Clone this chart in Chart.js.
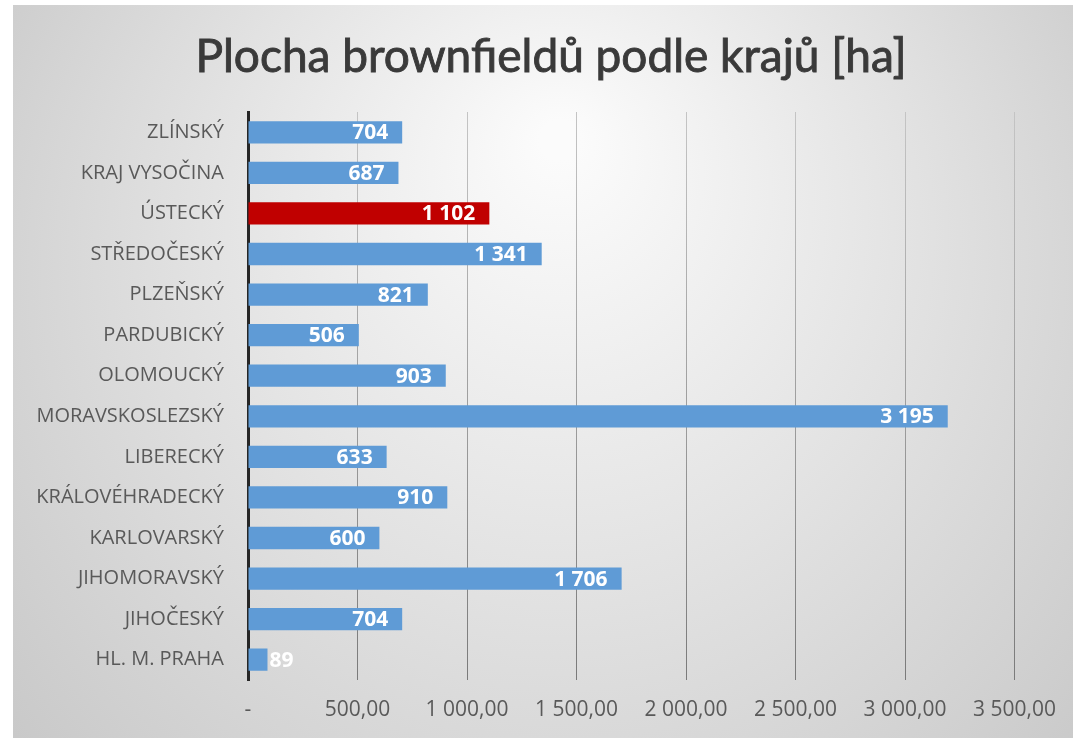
<!DOCTYPE html>
<html>
<head>
<meta charset="utf-8">
<script src="https://cdn.jsdelivr.net/npm/chart.js@4"></script>
<style>
  html, body { margin: 0; padding: 0; background: #ffffff; }
  #wrap { width: 1073px; height: 738px; }
</style>
</head>
<body>
<div id="wrap"><canvas id="myChart" width="1073" height="738"></canvas></div>
<script>
// data - Chart.js kresli prvni kategorii nahore
var kraje = ['ZLÍNSKÝ', 'KRAJ VYSOČINA', 'ÚSTECKÝ', 'STŘEDOČESKÝ', 'PLZEŇSKÝ', 'PARDUBICKÝ',
  'OLOMOUCKÝ', 'MORAVSKOSLEZSKÝ', 'LIBERECKÝ', 'KRÁLOVÉHRADECKÝ', 'KARLOVARSKÝ',
  'JIHOMORAVSKÝ', 'JIHOČESKÝ', 'HL. M. PRAHA'];
var plocha = [704, 687, 1102, 1341, 821, 506, 903, 3195, 633, 910, 600, 1706, 704, 89];
var zvyraznit = 'ÚSTECKÝ';
var titulek = 'Plocha brownfieldů podle krajů [ha]';
var osaMax = 3500;
var osaKrok = 500;

var FONT_TITUL = 'Lato, "Open Sans", sans-serif';
var FONT = '"Open Sans", Lato, sans-serif';
var modra = '#5f9bd6';
var cervena = '#c00000';

// cislo s mezerou jako oddelovac tisicu
function formatCislo(v, des) {
  var s = v.toFixed(des);
  var cast = s.split('.');
  var cele = cast[0].replace(/\B(?=(\d{3})+(?!\d))/g, ' ');
  return cast.length > 1 ? cele + ',' + cast[1] : cele;
}

var barvy = kraje.map(function (k) { return k === zvyraznit ? cervena : modra; });

// pozadi s radialnim prechodem + nadpis
var pozadi = {
  id: 'pozadi',
  beforeDraw: function (chart) {
    var c = chart.ctx;
    c.save();
    c.fillStyle = '#ffffff';
    c.fillRect(0, 0, chart.width, chart.height);
    var g = c.createRadialGradient(560, 140, 20, 560, 320, 700);
    g.addColorStop(0, '#fbfbfb');
    g.addColorStop(0.5, '#e2e2e2');
    g.addColorStop(1, '#c8c8c8');
    c.fillStyle = g;
    c.fillRect(13, 5, chart.width - 13, chart.height - 5);
    // nadpis (trochu tucnejsi tahem)
    c.font = 'normal 46px ' + FONT_TITUL;
    c.fillStyle = '#3a3a3a';
    c.strokeStyle = '#3a3a3a';
    c.lineWidth = 0.9;
    c.textAlign = 'center';
    c.textBaseline = 'alphabetic';
    c.fillText(titulek, 551, 72);
    c.strokeText(titulek, 551, 72);
    c.restore();
  }
};

// popisky hodnot uvnitr konce sloupce
var popisky = {
  id: 'popisky',
  afterDatasetsDraw: function (chart) {
    var c = chart.ctx;
    var meta = chart.getDatasetMeta(0);
    c.save();
    c.font = 'bold 21px ' + FONT;
    c.fillStyle = '#ffffff';
    c.textBaseline = 'middle';
    meta.data.forEach(function (bar, i) {
      var txt = formatCislo(plocha[i], 0);
      var w = c.measureText(txt).width;
      if (bar.x - bar.base > w + 18) {
        c.textAlign = 'right';
        c.fillText(txt, bar.x - 14, bar.y + 1);
      } else {
        c.textAlign = 'left';
        c.fillText(txt, bar.x + 2, bar.y + 1);
      }
    });
    c.restore();
  }
};

// mrizka - nahore svetlejsi, dole tmavsi
function barvaMrizky(context) {
  var ch = context.chart;
  var a = ch.chartArea;
  if (!a) return '#8c8c8c';
  var g = ch.ctx.createLinearGradient(0, a.top, 0, a.bottom);
  g.addColorStop(0, '#c4c4c4');
  g.addColorStop(1, '#7a7a7a');
  return g;
}

var ctx = document.getElementById('myChart').getContext('2d');
var chart = new Chart(ctx, {
  type: 'bar',
  data: {
    labels: kraje,
    datasets: [{
      label: 'Plocha [ha]',
      data: plocha,
      backgroundColor: barvy,
      borderWidth: 0,
      categoryPercentage: 1,
      barPercentage: 0.55
    }]
  },
  options: {
    indexAxis: 'y',
    responsive: false,
    animation: false,
    layout: { padding: { top: 112, right: 58, bottom: 6, left: 0 } },
    plugins: {
      legend: { display: false },
      tooltip: { enabled: false },
      title: { display: false }
    },
    scales: {
      x: {
        min: 0,
        max: osaMax,
        ticks: {
          stepSize: osaKrok,
          color: '#595959',
          font: { family: FONT, size: 21 },
          padding: 17,
          callback: function (v) { return v === 0 ? '-' : formatCislo(v, 2); }
        },
        grid: { color: barvaMrizky, lineWidth: 1, drawTicks: false },
        border: { display: false },
        afterFit: function (s) { s.height = 52; }
      },
      y: {
        ticks: {
          color: '#595959',
          font: { family: FONT, size: 20 },
          padding: 24
        },
        grid: { display: false, drawTicks: false },
        border: { color: '#262626', width: 3 },
        afterFit: function (s) { s.width = 248; }
      }
    }
  },
  plugins: [pozadi, popisky]
});
</script>
</body>
</html>
